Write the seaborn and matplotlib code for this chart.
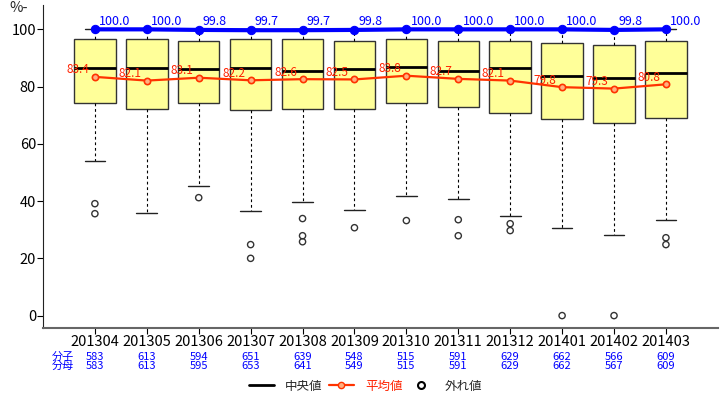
import numpy as np
import pandas as pd
import seaborn as sns
import matplotlib
matplotlib.use("Agg")
from matplotlib import pyplot as plt
from matplotlib.lines import Line2D

# data
months = ['201304', '201305', '201306', '201307', '201308', '201309',
          '201310', '201311', '201312', '201401', '201402', '201403']
q1 = [74.2, 72.1, 74.2, 71.8, 72.1, 72.3, 74.2, 72.8, 70.7, 68.8, 67.4, 69.1]
med = [86.5, 86.5, 86.2, 86.5, 85.4, 86.2, 86.9, 85.5, 86.5, 83.7, 83.0, 84.6]
q3 = [96.7, 96.5, 95.8, 96.5, 96.5, 96.0, 96.7, 96.0, 96.0, 95.1, 94.6, 95.8]
whislo = [53.9, 36.0, 45.2, 36.7, 39.7, 37.0, 41.7, 40.9, 34.8, 30.5, 28.0, 33.4]
whishi = [100.0] * 12
outliers = [[39.1, 35.6], [], [41.2], [24.8, 20.0], [33.9, 27.9, 25.8], [30.7],
            [33.2], [33.5, 27.9], [32.1, 29.7], [0.0], [0.0], [27.2, 24.8]]
means = [83.4, 82.1, 83.1, 82.2, 82.6, 82.5, 83.8, 82.7, 82.1, 79.8, 79.3, 80.8]
ratio = [100.0, 100.0, 99.8, 99.7, 99.7, 99.8, 100.0, 100.0, 100.0, 100.0, 99.8, 100.0]
bunshi = [583, 613, 594, 651, 639, 548, 515, 591, 629, 662, 566, 609]
bunbo = [583, 613, 595, 653, 641, 549, 515, 591, 629, 662, 567, 609]

sns.set_style("white")
plt.rcParams['font.family'] = ['Noto Sans CJK JP', 'DejaVu Sans']

# 5 values per month -> quartiles are exactly q1/med/q3, whiskers min/max
rows = []
for i, m in enumerate(months):
    for v in [whislo[i], q1[i], med[i], q3[i], whishi[i]]:
        rows.append({'month': m, 'value': v})
box_df = pd.DataFrame(rows)

out_x, out_y = [], []
for i, vals in enumerate(outliers):
    for v in vals:
        out_x.append(i)
        out_y.append(v)
out_df = pd.DataFrame({'x': out_x, 'y': out_y})
line_df = pd.DataFrame({'x': np.arange(len(months)), 'mean': means, 'ratio': ratio})

fig = plt.figure(figsize=(7.2, 4.01), dpi=100)
ax = fig.add_axes([0.0597, 0.183, 0.9373, 0.8045])

sns.boxplot(data=box_df, x='month', y='value', order=months, ax=ax,
            color='#FFFF99', linecolor='#333333', linewidth=1, saturation=1,
            width=0.8, whis=(0, 100), showfliers=False,
            medianprops=dict(color='black', linewidth=2),
            whiskerprops=dict(color='black', linestyle=(0, (2.5, 2.5)), linewidth=0.8),
            capprops=dict(color='#222222', linewidth=1))

sns.scatterplot(data=out_df, x='x', y='y', ax=ax, marker='o', s=20,
                facecolor='none', edgecolor='#333333', linewidth=1, zorder=4)

sns.lineplot(data=line_df, x='x', y='mean', ax=ax, color='#FF3300', linewidth=1.6,
             marker='o', markersize=4.5, markerfacecolor='#FFB080',
             markeredgecolor='#FF3300', markeredgewidth=1.2, zorder=5)
sns.lineplot(data=line_df, x='x', y='ratio', ax=ax, color='#0000FF', linewidth=3,
             marker='o', markersize=6, markeredgecolor='#0000FF', zorder=6)

for i in range(len(months)):
    ax.annotate(f"{means[i]:.1f}", (i, means[i]), xytext=(-4, 5),
                textcoords='offset points', ha='right', va='center',
                color='#FF2200', fontsize=8.5, zorder=7)
    ax.annotate(f"{ratio[i]:.1f}", (i, ratio[i]), xytext=(3, 6),
                textcoords='offset points', ha='left', va='center',
                color='#0000FF', fontsize=9, zorder=7)

ax.set_xlim(-1, 12)
ax.set_ylim(-4.2, 108.5)
ax.set_yticks([0, 20, 40, 60, 80, 100])
ax.set_xlabel('')
ax.set_ylabel('')
ax.tick_params(axis='both', direction='out', length=4, width=0.8, pad=1,
               labelsize=10.5, colors='black', left=True, bottom=True)
for s in ['top', 'right']:
    ax.spines[s].set_visible(False)
ax.spines['left'].set_color('#222222')
ax.spines['bottom'].set_color('#666666')
ax.spines['bottom'].set_linewidth(1.5)

fig.text(0.013, 0.997, '%-', fontsize=10.5, va='top', ha='left')

# numerator / denominator rows under the axis
trans = matplotlib.transforms.blended_transform_factory(ax.transData, fig.transFigure)
fig.text(0.072, 0.110, '分子', color='#0000FF', fontsize=8, ha='left', va='center')
fig.text(0.072, 0.087, '分母', color='#0000FF', fontsize=8, ha='left', va='center')
for i in range(len(months)):
    ax.text(i, 0.110, str(bunshi[i]), transform=trans, color='#0000FF',
            fontsize=8, ha='center', va='center')
    ax.text(i, 0.087, str(bunbo[i]), transform=trans, color='#0000FF',
            fontsize=8, ha='center', va='center')

handles = [
    Line2D([], [], color='black', linewidth=2),
    Line2D([], [], color='#FF3300', linewidth=1.6, marker='o', markersize=4.5,
           markerfacecolor='#FFB080', markeredgecolor='#FF3300'),
    Line2D([], [], color='none', marker='o', markersize=5, markerfacecolor='none',
           markeredgecolor='black', markeredgewidth=1.5),
]
leg = fig.legend(handles, ['中央値', '平均値', '外れ値'], loc='center',
                 bbox_to_anchor=(0.508, 0.037), ncol=3, frameon=False,
                 fontsize=9, handlelength=2.0, columnspacing=0.5, handletextpad=0.9)
leg.get_texts()[1].set_color('#FF2200')

fig.savefig('out.png', dpi=100)
